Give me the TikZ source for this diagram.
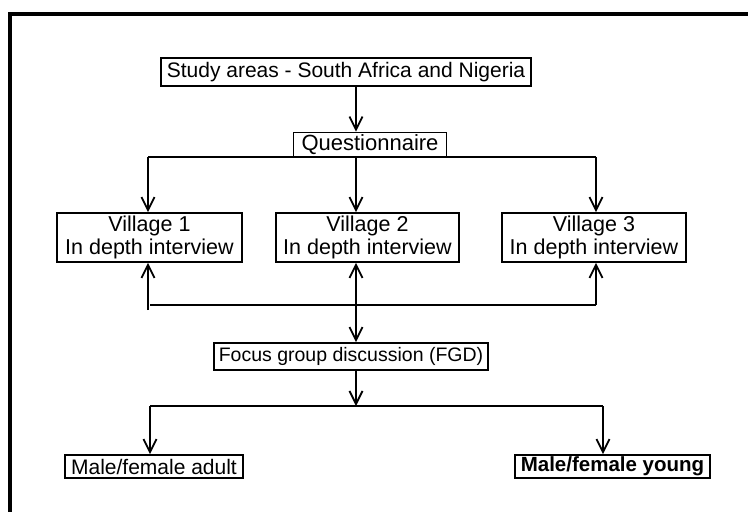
\documentclass[tikz,border=0pt]{standalone}
\usepackage{fontspec}
\setmainfont{Liberation Sans}
\usetikzlibrary{arrows.meta,positioning}
\tikzset{
  box/.style={draw, line width=1.8pt, rectangle, inner sep=0pt, font=\fontsize{21}{23.5}\selectfont, align=center},
  conn/.style={line width=1.8pt},
  arr/.style={line width=1.8pt, -{Straight Barb[length=13pt,width=13pt]}},
}
\begin{document}
\begin{tikzpicture}[x=1pt,y=-1pt]
\useasboundingbox (0,0) rectangle (748,512);
\begin{scope}
\clip (0,0) rectangle (748,512);
\draw[line width=3.2pt] (10,530) -- (10,14) -- (770,14);
\end{scope}

\node[box, minimum width=370pt, minimum height=28pt] (title) at (346,72) {Study areas - South Africa and Nigeria};
\node[box, minimum width=153pt, minimum height=25pt, font=\fontsize{22}{24}\selectfont] (quest) at (370,145) {Questionnaire};

\node[box, minimum width=185pt, minimum height=49pt, font=\fontsize{21.5}{23.5}\selectfont] (v1) at (149.5,237.5) {Village 1\\In depth interview};
\node[box, minimum width=183pt, minimum height=49pt, font=\fontsize{21.5}{23.5}\selectfont] (v2) at (367.5,237.5) {Village 2\\In depth interview};
\node[box, minimum width=184pt, minimum height=49pt, font=\fontsize{21.5}{23.5}\selectfont] (v3) at (594,237.5) {Village 3\\In depth interview};

\node[box, minimum width=274pt, minimum height=27pt, font=\fontsize{19.5}{22}\selectfont] (fgd) at (351,356.5) {Focus group discussion (FGD)};

\node[box, minimum width=178pt, minimum height=23pt] (adult) at (154,466.5) {Male/female adult};
\node[box, minimum width=195pt, minimum height=23pt, font=\fontsize{20.5}{23}\selectfont\bfseries] (young) at (612.5,466.5) {Male/female young};

\coordinate (xm) at (356,0);
\coordinate (ql) at (148,157);
\coordinate (qr) at (596,157);
\coordinate (bl) at (148,310);
\coordinate (blh) at (150,305);
\coordinate (br) at (596,305);
\coordinate (fl) at (150,406);
\coordinate (fr) at (603,406);

% title -> questionnaire
\draw[arr] (title.south -| xm) -- (quest.north -| xm);
% questionnaire -> villages
\draw[conn] (ql) -- (qr);
\draw[arr] (ql) -- (v1.north -| ql);
\draw[arr] (quest.south -| xm) -- (v2.north -| xm);
\draw[arr] (qr) -- (v3.north -| qr);
% villages <- bottom line
\draw[arr] (bl) -- (v1.south -| bl);
\draw[conn] (blh) -- (br);
\draw[arr] (br) -- (v3.south -| br);
\draw[arr] (blh -| xm) -- (v2.south -| xm);
% bottom line -> FGD
\draw[arr] (blh -| xm) -- (fgd.north -| xm);
% FGD -> groups
\draw[arr] (fgd.south -| xm) -- (fl -| xm);
\draw[conn] (fl) -- (fr);
\draw[arr] (fl) -- (adult.north -| fl);
\draw[arr] (fr) -- (young.north -| fr);
\end{tikzpicture}
\end{document}
